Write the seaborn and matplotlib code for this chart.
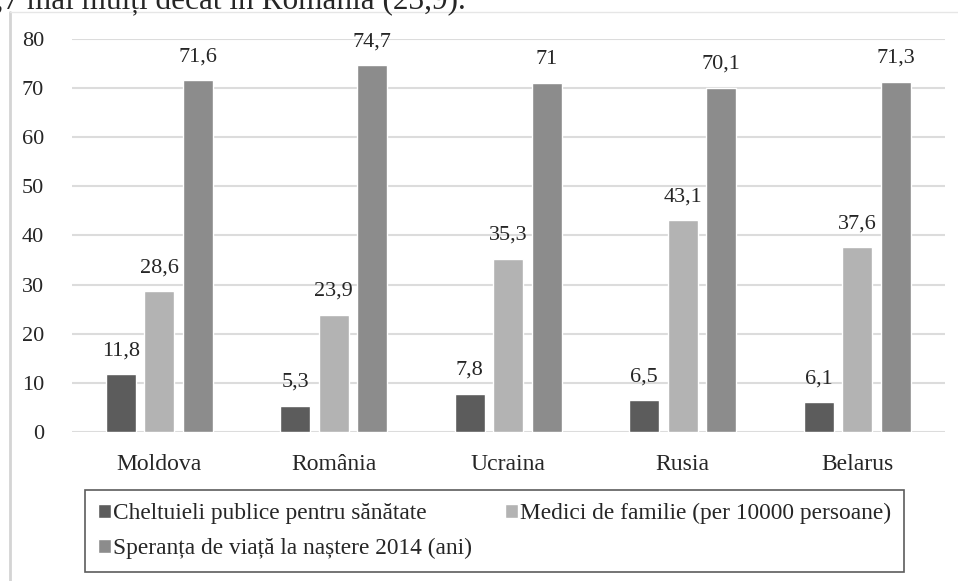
import pandas as pd
import seaborn as sns
import matplotlib.pyplot as plt
from matplotlib.lines import Line2D

# date
tari = ["Moldova", "România", "Ucraina", "Rusia", "Belarus"]
cheltuieli = [11.8, 5.3, 7.8, 6.5, 6.1]
medici = [28.6, 23.9, 35.3, 43.1, 37.6]
speranta = [71.6, 74.7, 71.0, 70.1, 71.3]
serii = ["Cheltuieli publice pentru sănătate",
         "Medici de familie (per 10000 persoane)",
         "Speranța de viață la naștere 2014 (ani)"]
culori = ["#5c5c5c", "#b3b3b3", "#8c8c8c"]

df = pd.DataFrame({"tara": tari * 3,
                   "serie": [serii[0]] * 5 + [serii[1]] * 5 + [serii[2]] * 5,
                   "valoare": cheltuieli + medici + speranta})

sns.set_style("white")
plt.rcParams['font.family'] = ['Liberation Serif', 'DejaVu Serif']

fig = plt.figure(figsize=(9.58, 5.81), dpi=100)
ax = fig.add_axes([0.075, 0.2565, 0.911, 0.6765])

sns.barplot(data=df, x="tara", y="valoare", hue="serie", palette=culori,
            width=0.66, gap=0.22, ax=ax, legend=True)

ax.set_ylim(0, 80)
ax.set_xlim(-0.5, 4.5)
ax.set_yticks(range(0, 81, 10))
ax.yaxis.grid(True, color="#dcdcdc", linewidth=1.5)
ax.set_axisbelow(True)
for s in ax.spines.values():
    s.set_visible(False)
ax.tick_params(axis="y", labelsize=16, length=0, pad=20)
ax.tick_params(axis="x", labelsize=17, length=0, pad=16)
ax.set_xlabel("")
ax.set_ylabel("")

def fmt(v):
    s = f"{v:.1f}".replace(".", ",")
    return s[:-2] if s.endswith(",0") else s

for cont in ax.containers:
    ax.bar_label(cont, labels=[fmt(v) for v in cont.datavalues],
                 padding=10, fontsize=16)

# ordinea din legenda: Cheltuieli, Medici pe primul rand
h, l = ax.get_legend_handles_labels()
ordine = [0, 2, 1]
leg = ax.legend([h[i] for i in ordine], [l[i] for i in ordine],
                loc="upper left", bbox_to_anchor=(0.0155, -0.148), ncol=2,
                fontsize=16.8, frameon=True, fancybox=False, edgecolor="#333333",
                handlelength=0.55, handleheight=0.55, handletextpad=0.1,
                columnspacing=1.4, borderpad=0.55, labelspacing=0.6,
                borderaxespad=0)
leg.get_frame().set_linewidth(1.2)

# textul taiat de sus si chenarul imaginii
fig.text(-0.021, 1 - 9 / 581, "4,7 mai mulți decât în România (23,9).",
         fontsize=22.5, va="baseline", ha="left")
fig.add_artist(Line2D([10 / 958, 10 / 958], [0, 1 - 12 / 581],
                      transform=fig.transFigure, color="#d4d4d4", lw=2))
fig.add_artist(Line2D([10 / 958, 1], [1 - 12 / 581, 1 - 12 / 581],
                      transform=fig.transFigure, color="#e6e6e6", lw=1))

plt.savefig("out.png", dpi=100)
